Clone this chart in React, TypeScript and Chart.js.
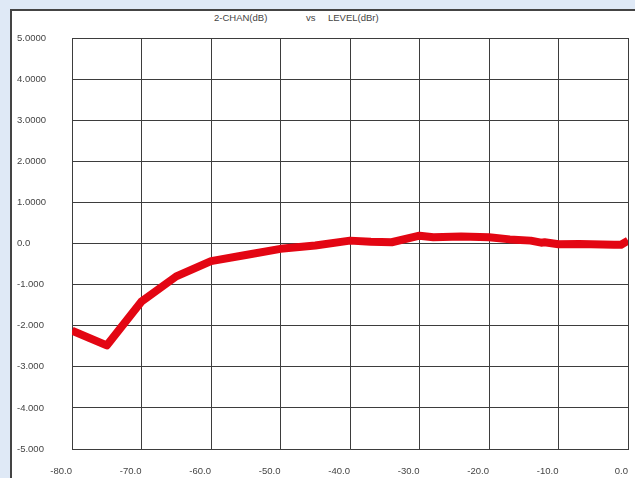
import React, { useEffect, useRef } from "react";
import { Chart, registerables } from "chart.js";

Chart.register(...registerables);

// Measured response: 2-channel gain (dB) against input level (dBr)
const levels = [-80, -75, -70, -65, -60, -55, -50, -45, -40, -37, -34, -30, -28, -24, -20, -17, -14, -12.5, -12, -10, -7, -2, -1, 0];
const gains = [-2.12, -2.48, -1.41, -0.8, -0.43, -0.28, -0.13, -0.05, 0.07, 0.04, 0.03, 0.19, 0.15, 0.17, 0.15, 0.1, 0.07, 0.02, 0.03, -0.02, -0.01, -0.03, -0.03, 0.07];

const yTickValues = [5, 4, 3, 2, 1, 0, -1, -2, -3, -4, -5];
const yTickLabels = ["5.0000", "4.0000", "3.0000", "2.0000", "1.0000", "0.0", "-1.000", "-2.000", "-3.000", "-4.000", "-5.000"];
const xTickValues = [-80, -70, -60, -50, -40, -30, -20, -10, 0];
const xTickLabels = ["-80.0", "-70.0", "-60.0", "-50.0", "-40.0", "-30.0", "-20.0", "-10.0", "0.0"];

const titleParts = ["2-CHAN(dB)", "vs", "LEVEL(dBr)"];

const FONT = "'Liberation Sans', Arial, sans-serif";
const TEXT = "#444";
const GRID = "#3d3d3d";

export default function App() {
  const ref = useRef<HTMLCanvasElement | null>(null);

  useEffect(() => {
    if (!ref.current) return;
    const chart = new Chart(ref.current, {
      type: "line",
      data: {
        datasets: [
          {
            data: levels.map((x, i) => ({ x, y: gains[i] })),
            borderColor: "#e30613",
            borderWidth: 8,
            borderJoinStyle: "round",
            pointRadius: 0,
            tension: 0,
            clip: 0,
          },
        ],
      },
      options: {
        animation: false,
        responsive: false,
        layout: { padding: { left: 17, top: 38, right: 7, bottom: 0 } },
        plugins: { legend: { display: false }, title: { display: false }, tooltip: { enabled: false } },
        scales: {
          x: {
            type: "linear",
            min: -80,
            max: 0,
            afterFit: (s: any) => {
              s.height = 29;
              s.paddingLeft = 0;
              s.paddingRight = 0;
            },
            afterBuildTicks: (s: any) => {
              s.ticks = xTickValues.map((v) => ({ value: v }));
            },
            grid: { color: GRID, lineWidth: 1, drawTicks: false },
            border: { display: true, color: GRID, width: 1 },
            ticks: {
              align: "end",
              padding: 17,
              color: TEXT,
              font: { family: FONT, size: 9.5 },
              maxRotation: 0,
              autoSkip: false,
              callback: (v: any) => {
                const i = xTickValues.indexOf(Number(v));
                return i >= 0 ? xTickLabels[i] : "";
              },
            },
          },
          y: {
            type: "linear",
            min: -5,
            max: 5,
            afterFit: (s: any) => {
              s.width = 55;
              s.paddingTop = 0;
              s.paddingBottom = 0;
            },
            afterBuildTicks: (s: any) => {
              s.ticks = yTickValues.map((v) => ({ value: v }));
            },
            grid: { color: GRID, lineWidth: 1, drawTicks: false },
            border: { display: true, color: GRID, width: 1 },
            ticks: {
              crossAlign: "far",
              color: TEXT,
              font: { family: FONT, size: 9.5 },
              autoSkip: false,
              callback: (v: any) => {
                const i = yTickValues.indexOf(Number(v));
                return i >= 0 ? yTickLabels[i] : "";
              },
            },
          },
        },
      },
    });
    return () => chart.destroy();
  }, []);

  const titleStyle: React.CSSProperties = {
    position: "absolute",
    top: 12,
    fontFamily: FONT,
    fontSize: 9.5,
    color: TEXT,
    whiteSpace: "nowrap",
  };

  return (
    <div style={{ position: "absolute", left: 0, top: 0, width: 635, height: 478, overflow: "hidden", background: "#dfe9f6" }}>
      <div
        style={{
          position: "absolute",
          left: 10,
          top: 9,
          width: 700,
          height: 600,
          background: "#ffffff",
          borderTop: "2px solid #444",
          borderLeft: "2px solid #444",
        }}
      />
      <span style={{ ...titleStyle, left: 214 }}>{titleParts[0]}</span>
      <span style={{ ...titleStyle, left: 306 }}>{titleParts[1]}</span>
      <span style={{ ...titleStyle, left: 328 }}>{titleParts[2]}</span>
      <canvas ref={ref} width={635} height={478} style={{ position: "absolute", left: 0, top: 0 }} />
    </div>
  );
}
